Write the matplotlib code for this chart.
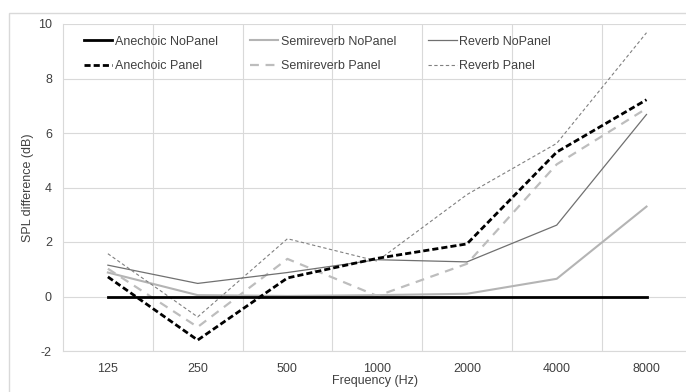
import matplotlib
matplotlib.use('Agg')
import matplotlib.pyplot as plt
from matplotlib.patches import Rectangle
import numpy as np

plt.rcParams['font.family'] = ['Liberation Sans', 'DejaVu Sans']
plt.rcParams['axes.unicode_minus'] = False

# data
freqs = ['125', '250', '500', '1000', '2000', '4000', '8000']
anechoic_nopanel = [0, 0, 0, 0, 0, 0, 0]
semireverb_nopanel = [0.88, 0.05, 0.02, 0.05, 0.1, 0.65, 3.3]
reverb_nopanel = [1.15, 0.48, 0.88, 1.35, 1.27, 2.62, 6.68]
anechoic_panel = [0.72, -1.6, 0.68, 1.4, 1.93, 5.3, 7.22]
semireverb_panel = [1.02, -1.12, 1.38, 0.02, 1.2, 4.85, 6.9]
reverb_panel = [1.57, -0.75, 2.12, 1.3, 3.74, 5.62, 9.68]

grid_c = '#d9d9d9'
txt_c = '#404040'
fs = 9

fig = plt.figure(figsize=(6.86, 3.92), dpi=100)
# outer chart border (cut off at right / bottom)
fig.patches.append(Rectangle((9/686, -0.1), 2, (392-13)/392 + 0.1,
                             transform=fig.transFigure, fill=False,
                             edgecolor=grid_c, lw=1))
ax = fig.add_axes([63/686, 41/392, 1 - 63/686, 327/392])

x = np.arange(len(freqs))
ax.plot(x, anechoic_nopanel, color='black', lw=2.0, label='Anechoic NoPanel', zorder=5)
ax.plot(x, anechoic_panel, color='black', lw=2.0, dashes=(2.2, 1.1), label='Anechoic Panel', zorder=4)
ax.plot(x, semireverb_nopanel, color='#b4b4b4', lw=1.5, label='Semireverb NoPanel', zorder=3)
ax.plot(x, semireverb_panel, color='#bdbdbd', lw=1.6, dashes=(4, 3), label='Semireverb Panel', zorder=3)
ax.plot(x, reverb_nopanel, color='#707070', lw=0.9, label='Reverb NoPanel', zorder=3)
ax.plot(x, reverb_panel, color='#808080', lw=0.8, dashes=(3, 2.2), label='Reverb Panel', zorder=3)

ax.set_xlim(-0.5, 6.44)
ax.set_ylim(-2, 10)
ax.set_yticks(np.arange(-2, 11, 2))
ax.set_xticks(x)
ax.set_xticklabels(freqs)
ax.set_xticks(np.arange(0.5, 6, 1), minor=True)
ax.grid(axis='y', which='major', color=grid_c, lw=0.8)
ax.grid(axis='x', which='minor', color=grid_c, lw=0.8)
ax.set_axisbelow(True)
ax.tick_params(which='both', length=0, labelsize=fs, labelcolor=txt_c)
ax.tick_params(axis='x', pad=9)
ax.tick_params(axis='y', pad=8)
for s in ['top', 'right']:
    ax.spines[s].set_visible(False)
for s in ['left', 'bottom']:
    ax.spines[s].set_color(grid_c)
    ax.spines[s].set_linewidth(0.8)

ax.set_xlabel('Frequency (Hz)', fontsize=fs, color=txt_c)
ax.set_ylabel('SPL difference (dB)', fontsize=fs, color=txt_c)
ax.xaxis.set_label_coords(0.5, -0.072)
ax.yaxis.set_label_coords(-0.047, 0.5)

ax.legend(loc='upper left', bbox_to_anchor=(0.025, 0.98), ncol=3, frameon=False,
          fontsize=fs, handlelength=2.3, handletextpad=0.2, columnspacing=2.55,
          labelspacing=1.0, borderaxespad=0, labelcolor=txt_c)

fig.savefig('out.png', dpi=100)
